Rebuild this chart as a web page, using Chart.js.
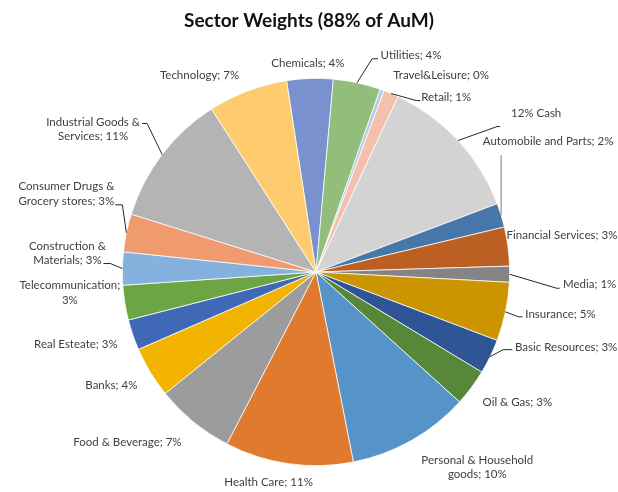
<!DOCTYPE html>
<html><head><meta charset="utf-8">
<script src="https://cdn.jsdelivr.net/npm/chart.js@4.4.1/dist/chart.umd.min.js"></script>
<style>html,body{margin:0;padding:0;background:#fff;}#wrap{width:618px;height:492px;position:relative;}</style>
</head><body><div id="wrap"><canvas id="c" width="618" height="492"></canvas></div>
<script>
// ---- data (clockwise from the Chemicals slice) ----
const categories = ["Chemicals","Utilities","Travel&Leisure","Retail","Cash","Automobile and Parts","Financial Services","Media","Insurance","Basic Resources","Oil & Gas","Personal & Household goods","Health Care","Food & Beverage","Banks","Real Esteate","Telecommunication","Construction & Materials","Consumer Drugs & Grocery stores","Industrial Goods & Services","Technology"];
const shares = [3.86, 3.94, 0.35, 1.25, 12.3, 2.0, 3.25, 1.33, 4.9, 2.9, 3.06, 10.2, 10.7, 6.6, 4.25, 2.55, 2.9, 2.75, 3.17, 11.1, 6.64];
const shownLabels = ["Chemicals; 4%","Utilities; 4%","Travel&Leisure; 0%","Retail; 1%","12% Cash","Automobile and Parts; 2%","Financial Services; 3%","Media; 1%","Insurance; 5%","Basic Resources; 3%","Oil & Gas; 3%","Personal & Household\ngoods; 10%","Health Care; 11%","Food & Beverage; 7%","Banks; 4%","Real Esteate; 3%","Telecommunication;\n3%","Construction &\nMaterials; 3%","Consumer Drugs &\nGrocery stores; 3%","Industrial Goods &\nServices; 11%","Technology; 7%"];
const chartTitle = "Sector Weights (88% of AuM)";

// ---- styles ----
const sliceColors = ["#7A91CF","#92BD7A","#B4CDE9","#F4BFAD","#D3D3D3","#4677A8","#BC5F23","#848484","#CC9500","#2F5597","#578838","#5593C9","#E07A2E","#9C9C9C","#F2B400","#3F69B6","#6BA544","#85B1DF","#F09A70","#B4B4B4","#FECB6E"];
// label offsets relative to the slice's outer mid point; leader = polyline offsets
const labelLayout = [
  {dx:-2, dy:-15},
  {dx:54, dy:-27, leader:[[15,-24],[21,-24]]},
  {dx:59, dy:-15},
  {dx:55, dy:4, leader:[[25,7],[29,7]]},
  {dx:78, dy:-27, leader:[[39,-14],[42,-14]]},
  {dx:47, dy:-74, leader:[[0,-60]], leaderColor:"#7f7f7f"},
  {dx:54, dy:-11},
  {dx:80, dy:10, leader:[[47,14],[50,14]]},
  {dx:55, dy:2, leader:[[13,5],[17,5]]},
  {dx:76, dy:-9, leader:[[13,-7],[22,-7]]},
  {dx:46, dy:15},
  {dx:66, dy:27},
  {dx:-20, dy:19},
  {dx:-66, dy:20},
  {dx:-39, dy:13},
  {dx:-57, dy:9},
  {dx:-55, dy:-10},
  {dx:-55, dy:-15, leader:[[-12,-5],[-19,-5]]},
  {dx:-60, dy:-39, leader:[[-4,-28],[-11,-28]]},
  {dx:-69, dy:-25, leader:[[-15,-31],[-20,-31]]},
  {dx:-48, dy:-16}
];
const FONT = "Lato, 'Open Sans', sans-serif";

const labelPlugin = {
  id: 'excelLabels',
  afterDatasetsDraw(chart) {
    const ctx = chart.ctx;
    const meta = chart.getDatasetMeta(0);
    ctx.save();
    // title
    ctx.fillStyle = '#111';
    ctx.font = "bold 19px " + FONT;
    ctx.textAlign = 'center';
    ctx.textBaseline = 'middle';
    ctx.fillText(chartTitle, 309, 21);
    ctx.font = "11.5px " + FONT;
    meta.data.forEach((arc, i) => {
      const p = arc.getProps(['x','y','startAngle','endAngle','outerRadius'], true);
      const mid = (p.startAngle + p.endAngle) / 2;
      const px = p.x + Math.cos(mid) * p.outerRadius;
      const py = p.y + Math.sin(mid) * p.outerRadius;
      const L = labelLayout[i];
      if (L.leader) {
        ctx.beginPath();
        ctx.strokeStyle = L.leaderColor || '#262626';
        ctx.lineWidth = 1;
        ctx.moveTo(px, py);
        L.leader.forEach(([dx, dy]) => ctx.lineTo(px + dx, py + dy));
        ctx.stroke();
      }
      const lines = shownLabels[i].split('\n');
      const cx = px + L.dx, cy = py + L.dy;
      ctx.fillStyle = '#404040';
      lines.forEach((ln, k) => {
        ctx.fillText(ln, cx, cy + (k - (lines.length - 1) / 2) * 14.5);
      });
    });
    ctx.restore();
  }
};

new Chart(document.getElementById('c'), {
  type: 'pie',
  data: {
    labels: categories,
    datasets: [{
      data: shares,
      backgroundColor: sliceColors,
      borderColor: '#ffffff',
      borderWidth: 0.75
    }]
  },
  options: {
    responsive: false,
    animation: false,
    rotation: -8.75,
    layout: { padding: { left: 122, right: 108, top: 78, bottom: 26 } },
    plugins: { legend: { display: false }, tooltip: { enabled: false }, title: { display: false } }
  },
  plugins: [labelPlugin]
});
</script>
</body></html>
